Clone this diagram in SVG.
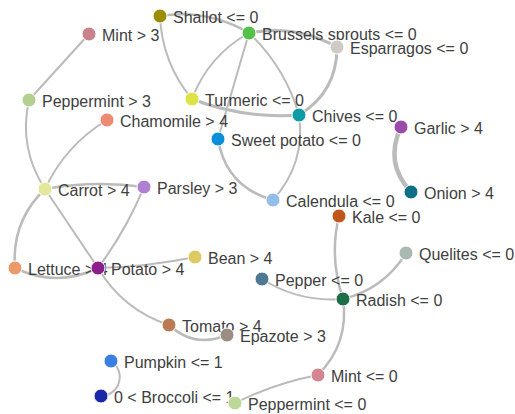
<svg xmlns="http://www.w3.org/2000/svg" width="515" height="414" viewBox="0 0 515 414">
<style>
.link{fill:none;stroke:#bbb;stroke-linecap:round}
.w2{stroke-width:2}
.w25{stroke-width:2.5}
.w3{stroke-width:3}
.w4{stroke-width:4.5}
.node circle{stroke:#fff;stroke-width:1}
.node text{font-family:"Liberation Sans",Arial,sans-serif;font-size:16px;fill:#404040}
</style>
<rect width="515" height="414" fill="#fff"/>
<g id="links">
<path class="link w25" d="M160,16 Q207.5,8.8 249,33"/>
<path class="link w2" d="M160,16 Q162,63 192,99"/>
<path class="link w2" d="M249,33 Q208.4,55.5 192,99"/>
<path class="link w2" d="M249,33 L218,139"/>
<path class="link w2" d="M249,33 Q285,67 299,115"/>
<path class="link w3" d="M249,33 Q295.5,24 337,47"/>
<path class="link w3" d="M337,47 Q337,92 299,115"/>
<path class="link w3" d="M192,99 Q243.7,119 299,115"/>
<path class="link w2" d="M299,115 Q306,163 273,200"/>
<path class="link w25" d="M218,139 Q226,187 273,200"/>
<path class="link w4" d="M401,127 Q384,163 411,192"/>
<path class="link w2" d="M89,34 L29,100"/>
<path class="link w2" d="M29,100 Q18.3,148 45,189"/>
<path class="link w2" d="M107,120 Q65.6,145 45,189"/>
<path class="link w25" d="M45,189 Q94.5,180 144,187"/>
<path class="link w25" d="M45,189 Q11.3,221.4 15,268"/>
<path class="link w2" d="M45,189 L98,268"/>
<path class="link w2" d="M144,187 Q126,230.5 98,268"/>
<path class="link w25" d="M15,268 Q56.5,288 98,268"/>
<path class="link w2" d="M98,268 Q147,267 195,257"/>
<path class="link w2" d="M98,268 Q123,310 169,325"/>
<path class="link w25" d="M169,325 Q194.8,348.7 227,335"/>
<path class="link w2" d="M111,361 A19,19 0 0 1 101,396"/>
<path class="link w25" d="M339,216 Q329,257 343,299"/>
<path class="link w25" d="M406,253 Q384,289 343,299"/>
<path class="link w2" d="M262,279 Q299,302.6 343,299"/>
<path class="link w25" d="M343,299 Q349.5,343 318,375"/>
<path class="link w2" d="M318,375 Q274.6,383.3 235,403"/>
</g>
<g id="n-shallot" class="node" transform="translate(160,16)"><circle r="7" fill="#9b8d00"/><text x="13" y="6.5">Shallot &lt;= 0</text></g>
<g id="n-brussels" class="node" transform="translate(249,33)"><circle r="7" fill="#56c14a"/><text x="13" y="6.5">Brussels sprouts &lt;= 0</text></g>
<g id="n-esparragos" class="node" transform="translate(337,47)"><circle r="7" fill="#cfcac4"/><text x="13" y="6.5">Esparragos &lt;= 0</text></g>
<g id="n-mint3" class="node" transform="translate(89,34)"><circle r="7" fill="#c9828b"/><text x="13" y="6.5">Mint &gt; 3</text></g>
<g id="n-peppermint3" class="node" transform="translate(29,100)"><circle r="7" fill="#b5cf90"/><text x="13" y="6.5">Peppermint &gt; 3</text></g>
<g id="n-turmeric" class="node" transform="translate(192,99)"><circle r="7" fill="#dde245"/><text x="13" y="6.5">Turmeric &lt;= 0</text></g>
<g id="n-chives" class="node" transform="translate(299,115)"><circle r="7" fill="#0e9ba6"/><text x="13" y="6.5">Chives &lt;= 0</text></g>
<g id="n-chamomile" class="node" transform="translate(107,120)"><circle r="7" fill="#ef8a72"/><text x="13" y="6.5">Chamomile &gt; 4</text></g>
<g id="n-sweetpotato" class="node" transform="translate(218,139)"><circle r="7" fill="#0a90da"/><text x="13" y="6.5">Sweet potato &lt;= 0</text></g>
<g id="n-garlic" class="node" transform="translate(401,127)"><circle r="7" fill="#9a4ca8"/><text x="13" y="6.5">Garlic &gt; 4</text></g>
<g id="n-carrot" class="node" transform="translate(45,189)"><circle r="7" fill="#e4e89b"/><text x="13" y="6.5">Carrot &gt; 4</text></g>
<g id="n-parsley" class="node" transform="translate(144,187)"><circle r="7" fill="#ae80d2"/><text x="13" y="6.5">Parsley &gt; 3</text></g>
<g id="n-onion" class="node" transform="translate(411,192)"><circle r="7" fill="#0e6f86"/><text x="13" y="6.5">Onion &gt; 4</text></g>
<g id="n-calendula" class="node" transform="translate(273,200)"><circle r="7" fill="#94bde9"/><text x="13" y="6.5">Calendula &lt;= 0</text></g>
<g id="n-kale" class="node" transform="translate(339,216)"><circle r="7" fill="#c0561b"/><text x="13" y="6.5">Kale &lt;= 0</text></g>
<g id="n-bean" class="node" transform="translate(195,257)"><circle r="7" fill="#dccb63"/><text x="13" y="6.5">Bean &gt; 4</text></g>
<g id="n-quelites" class="node" transform="translate(406,253)"><circle r="7" fill="#a9b9b1"/><text x="13" y="6.5">Quelites &lt;= 0</text></g>
<g id="n-lettuce" class="node" transform="translate(15,268)"><circle r="7" fill="#eb9a6b"/><text x="13" y="6.5">Lettuce &gt; 4</text></g>
<g id="n-potato" class="node" transform="translate(98,268)"><circle r="7" fill="#8d1f8b"/><text x="13" y="6.5">Potato &gt; 4</text></g>
<g id="n-pepper" class="node" transform="translate(262,279)"><circle r="7" fill="#4f7891"/><text x="13" y="6.5">Pepper &lt;= 0</text></g>
<g id="n-radish" class="node" transform="translate(343,299)"><circle r="7" fill="#1c6d48"/><text x="13" y="6.5">Radish &lt;= 0</text></g>
<g id="n-tomato" class="node" transform="translate(169,325)"><circle r="7" fill="#b97b55"/><text x="13" y="6.5">Tomato &gt; 4</text></g>
<g id="n-epazote" class="node" transform="translate(227,335)"><circle r="7" fill="#9a8e82"/><text x="13" y="6.5">Epazote &gt; 3</text></g>
<g id="n-pumpkin" class="node" transform="translate(111,361)"><circle r="7" fill="#3b7fe0"/><text x="13" y="6.5">Pumpkin &lt;= 1</text></g>
<g id="n-broccoli" class="node" transform="translate(101,396)"><circle r="7" fill="#1a28a8"/><text x="13" y="6.5">0 &lt; Broccoli &lt;= 1</text></g>
<g id="n-mint0" class="node" transform="translate(318,375)"><circle r="7" fill="#d38690"/><text x="13" y="6.5">Mint &lt;= 0</text></g>
<g id="n-peppermint0" class="node" transform="translate(235,403)"><circle r="7" fill="#bcd898"/><text x="13" y="6.5">Peppermint &lt;= 0</text></g>
</svg>
